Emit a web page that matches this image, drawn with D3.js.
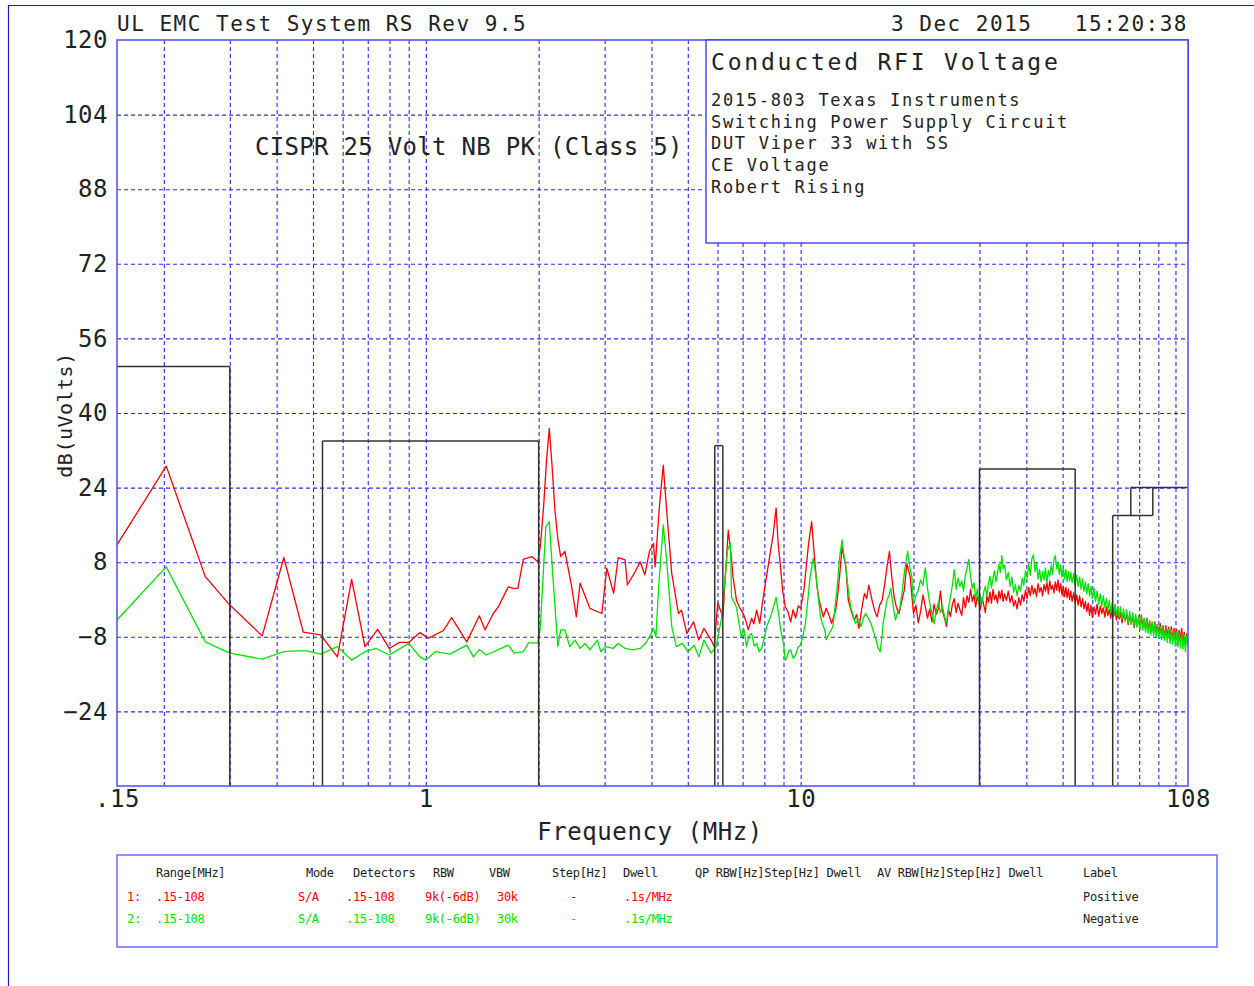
<!DOCTYPE html>
<html>
<head>
<meta charset="utf-8">
<script src="https://cdn.jsdelivr.net/npm/d3@7"></script>
<style>
body { margin: 0; background: #fff; }
svg text { font-family: "DejaVu Sans Mono", monospace; fill: #222; white-space: pre; }
</style>
</head>
<body>
<svg id="chart" width="1254" height="986"></svg>
<script>
// ---- data ----
var yTicks = [120, 104, 88, 72, 56, 40, 24, 8, -8, -24];
var yGrid = [104, 88, 72, 56, 40, 24, 8, -8, -24];
var xTicks = [0.15, 1, 10, 108];
var xTickLabels = [".15", "1", "10", "108"];
var xGrid = [0.2, 0.3, 0.4, 0.5, 0.6, 0.7, 0.8, 0.9, 1, 2, 3, 4, 5, 6, 7, 8, 9,
             10, 20, 30, 40, 50, 60, 70, 80, 90, 100];

// CISPR 25 class 5 limit bands: [fStart MHz, fStop MHz, dBuV]
var limitBands = [[0.15, 0.3, 50], [0.53, 2.0, 34], [5.9, 6.2, 33],
                  [30, 54, 28], [68, 87, 18], [76, 108, 24]];

// trace 1 : positive peak (red)
var positivePeak = [
  [0.15,11.7],[0.203,28.6],[0.258,4.9],[0.30,-1.2],[0.366,-7.8],[0.418,9.0],[0.471,-7.0],
  [0.524,-7.6],[0.581,-12.3],[0.634,4.3],[0.688,-10.1],[0.744,-6.4],[0.799,-10.5],[0.85,-9.2],
  [0.90,-9.2],[0.965,-7.1],[1.016,-8.3],[1.113,-6.7],[1.172,-3.9],[1.286,-9.1],[1.389,-3.5],
  [1.439,-6.5],[1.514,-3.0],[1.56,-1.6],[1.66,2.7],[1.71,2.4],[1.76,2.4],[1.82,8.6],[1.917,9.2],
  [1.99,8.1],[2.02,11.3],[2.06,19.5],[2.10,30.0],[2.135,36.7],[2.17,29.0],[2.21,19.2],[2.25,13.0],
  [2.29,9.2],[2.35,10.3],[2.45,2.7],[2.52,-3.7],[2.58,3.5],[2.74,-1.9],[2.95,-3.0],[3.04,6.7],
  [3.17,1.3],[3.26,9.0],[3.40,8.5],[3.45,3.1],[3.62,6.0],[3.73,8.1],[3.84,5.3],[3.95,10.3],
  [4.05,12.0],[4.09,7.0],[4.20,20.0],[4.30,28.8],[4.39,19.2],[4.53,5.6],[4.72,-3.0],[4.81,-2.3],
  [4.97,-7.3],[5.18,-4.8],[5.35,-8.7],[5.52,-6.2],[5.77,-8.7],[5.88,-10.1],[6.01,-0.7],[6.20,-3.7],
  [6.41,14.9],[6.54,8.8],[6.60,4.9],[6.74,-0.1],[6.88,-1.8],[7.03,-3.0],[7.14,-4.6],[7.25,-6.5],
  [7.40,-4.0],[7.50,-5.2],[7.63,-2.3],[7.78,-5.1],[7.90,-1.0],[8.0,2.0],[8.24,8.5],[8.45,14.0],
  [8.6,19.6],[8.7,12.5],[8.8,8.5],[8.95,2.0],[9.1,-1.6],[9.25,-2.6],[9.4,-4.8],[9.55,-2.2],
  [9.7,-4.0],[9.85,-1.4],[10.0,-1.9],[10.2,2.0],[10.5,12.0],[10.7,16.7],[10.9,8.5],[11.05,3.0],
  [11.2,-0.1],[11.35,-2.0],[11.5,-3.7],[11.7,-1.9],[11.9,-3.4],[12.1,-5.1],[12.4,-2.3],[12.55,0.8],
  [12.7,4.9],[12.9,11.3],[13.05,9.0],[13.2,7.0],[13.4,-0.1],[13.65,-2.6],[13.9,-4.4],[14.1,-3.2],
  [14.3,-6.2],[14.55,-2.0],[14.8,1.3],[15.0,0.2],[15.2,3.1],[15.5,-0.1],[15.75,-2.4],[16.0,-3.7],
  [16.25,-1.2],[16.5,-0.1],[16.75,3.2],[17.0,7.0],[17.25,10.3],[17.5,4.9],[17.75,0.6],[18.0,-1.6],
  [18.3,-3.0],[18.6,-0.4],[18.9,2.0],[19.2,7.7],[19.6,4.9],
  [20.0,-3.0],[20.3,-1.2],[20.6,-5.0],[20.9,-2.5],[21.2,1.0],[21.5,-1.5],[21.8,-4.0],[22.1,-2.0],
  [22.4,-4.8],[22.7,-1.0],[23.0,-3.2],[23.3,-2.0],[23.6,1.8],[23.9,-2.5],[24.2,-4.0],[24.5,-5.8],
  [24.8,-2.2],[25.1,-3.6],[25.4,-1.0],[25.7,0.2],[26.0,-2.8],[26.3,-0.8],[26.6,-2.2],[26.9,-3.4],
  [27.2,0.4],[27.5,-1.8],[27.8,0.8],[28.1,-0.6],[28.4,2.2],[28.7,-0.4],[29.0,1.0],[29.3,-1.6],
  [29.6,0.6],[29.9,-0.8],[30.2,-2.0],[30.5,0.4],[30.8,-1.2],[31.1,-2.8],[31.4,0.8],[31.7,-0.6],
  [32.0,1.6],[32.3,-0.8],[32.6,2.2],[32.9,0.0],[33.2,1.0],[33.5,-0.8],[33.8,1.8],[34.1,0.2],
  [34.4,2.0],[34.7,-0.4],[35.0,1.2],[35.4,-0.2],[35.8,1.8],[36.2,-0.6],[36.6,0.8],[37.0,-1.4],
  [37.4,-0.2],[37.8,-2.0],[38.2,0.4],[38.6,-1.2],[39.0,1.0],[39.4,-0.4],[39.8,2.0],[40.2,0.2],
  [40.6,2.6],[41.0,0.8],[41.4,3.0],[41.8,1.2],[42.2,2.4],[42.6,0.6],[43.0,3.4],[43.4,1.6],
  [43.8,2.6],[44.2,0.8],[44.6,3.2],[45.0,1.8],[45.4,3.6],[45.8,1.2],[46.2,4.0],[46.6,2.2],
  [47.0,3.0],[47.4,1.4],[47.8,3.8],[48.2,2.0],[48.6,4.2],[49.0,1.6],[49.4,3.4],[49.8,1.0],
  [50.2,2.8],[50.6,0.6],[51.0,2.6],[51.4,0.4],[51.8,2.2],[52.2,0.0],[52.6,1.8],[53.0,-0.4],
  [53.5,1.4],[54.0,-0.8],[54.5,1.0],[55.0,-1.2],[55.5,0.8],[56.0,-1.6],[56.5,0.2],[57.0,-2.0],
  [57.5,-0.4],[58.0,-2.6],[58.5,-0.8],[59.0,-3.4],[59.5,-1.2],[60.0,-3.8],[60.6,-1.6],[61.2,-3.2],
  [61.8,-1.0],[62.4,-3.6],[63.0,-1.4],[63.6,-3.0],[64.2,-1.8],[64.8,-3.8],[65.4,-1.6],[66.0,-3.4],
  [66.6,-2.2],[67.2,-4.0],[67.8,-1.8],[68.4,-3.6],[69.0,-2.4],[69.6,-4.4],[70.2,-2.2],[70.8,-4.2],
  [71.4,-2.8],[72.0,-5.0],[72.7,-3.0],[73.4,-4.6],[74.1,-3.2],[74.8,-5.4],[75.5,-3.4],[76.2,-5.2],
  [76.9,-3.6],[77.6,-6.0],[78.3,-3.8],[79.0,-5.6],[79.7,-4.0],[80.4,-6.2],[81.1,-3.4],[81.8,-5.8],
  [82.5,-4.2],[83.2,-6.4],[83.9,-4.0],[84.6,-6.6],[85.3,-4.6],[86.0,-6.8],[86.7,-5.0],[87.4,-7.2],
  [88.1,-4.8],[88.8,-6.8],[89.5,-5.4],[90.3,-7.4],[91.1,-5.2],[91.9,-7.6],[92.7,-5.6],[93.5,-8.0],
  [94.3,-5.6],[95.1,-7.6],[95.9,-6.0],[96.7,-8.2],[97.5,-5.8],[98.3,-8.6],[99.1,-6.2],[99.9,-8.4],
  [100.7,-6.4],[101.5,-9.0],[102.3,-6.6],[103.1,-8.6],[103.9,-6.2],[104.7,-9.4],[105.5,-7.0],
  [106.3,-9.8],[107.1,-7.4],[108.0,-9.0]
];

// trace 2 : negative peak (green)
var negativePeak = [
  [0.15,-4.4],[0.203,7.0],[0.258,-9.1],[0.30,-11.5],[0.366,-12.8],[0.418,-11.2],[0.45,-11.0],
  [0.482,-11.0],[0.524,-11.7],[0.581,-10.1],[0.634,-13.0],[0.688,-11.2],[0.738,-10.5],[0.799,-11.9],
  [0.90,-9.4],[0.965,-12.3],[1.0,-13.0],[1.06,-11.2],[1.16,-11.7],[1.286,-9.8],[1.34,-12.3],
  [1.389,-10.7],[1.45,-11.9],[1.66,-9.8],[1.72,-11.5],[1.82,-11.2],[1.88,-9.3],[1.99,-9.3],
  [2.02,-6.2],[2.09,15.6],[2.135,16.7],[2.18,5.6],[2.25,-10.1],[2.29,-6.5],[2.35,-6.5],[2.42,-10.1],
  [2.50,-8.7],[2.58,-10.5],[2.66,-9.4],[2.74,-10.8],[2.87,-8.7],[2.93,-11.2],[3.02,-10.1],[3.16,-10.5],
  [3.26,-9.4],[3.40,-10.5],[3.56,-10.8],[3.73,-10.5],[3.86,-9.4],[3.95,-8.0],[4.05,-6.2],[4.11,-8.0],
  [4.18,2.7],[4.30,16.0],[4.39,8.5],[4.53,-5.8],[4.66,-10.1],[4.84,-9.4],[5.0,-11.2],[5.2,-9.8],
  [5.35,-12.3],[5.52,-8.7],[5.77,-11.5],[5.95,-10.1],[6.16,-3.7],[6.38,10.6],[6.5,12.0],[6.54,0.5],
  [6.74,-1.6],[6.85,-5.2],[6.95,-8.0],[7.06,-6.4],[7.17,-10.1],[7.28,-7.8],[7.40,-7.3],[7.52,-10.0],
  [7.63,-9.4],[7.75,-11.2],[7.87,-10.5],[8.0,-8.2],[8.12,-5.8],[8.37,-3.0],[8.6,0.5],[8.73,-3.0],
  [8.86,-6.8],[9.0,-9.4],[9.1,-13.0],[9.2,-12.3],[9.3,-11.0],[9.4,-10.8],[9.55,-12.6],[9.7,-11.9],
  [9.85,-10.2],[10.0,-9.8],[10.15,-7.6],[10.3,-5.1],[10.6,4.9],[10.8,8.8],[11.0,4.9],[11.15,0.2],
  [11.3,-3.7],[11.45,-5.4],[11.6,-6.5],[11.7,-8.6],[11.8,-8.0],[12.0,-6.8],[12.2,-5.8],[12.35,-1.6],
  [12.5,2.0],[12.7,9.0],[12.9,12.8],[13.05,9.4],[13.2,7.0],[13.4,2.0],[13.6,-1.6],[13.8,-3.4],
  [14.0,-5.1],[14.25,-4.2],[14.5,-5.8],[14.7,-4.0],[14.9,-3.0],[15.15,-4.0],[15.4,-5.1],[15.65,-7.0],
  [15.9,-8.7],[16.1,-10.4],[16.3,-11.2],[16.45,-8.6],[16.6,-5.1],[16.8,-2.6],[17.0,-0.1],[17.2,0.8],
  [17.4,2.4],[17.65,-1.4],[17.9,-4.4],[18.15,-2.8],[18.4,-1.9],[18.65,1.6],[18.9,5.6],[19.1,8.2],
  [19.3,10.3],[19.55,7.0],[19.8,4.9],
  [20.0,-1.0],[20.3,0.8],[20.6,2.0],[20.9,4.2],[21.2,3.0],[21.5,6.8],[21.8,2.4],[22.1,-0.8],
  [22.4,-3.0],[22.7,-5.2],[23.0,-2.4],[23.3,-0.6],[23.6,-2.8],[23.9,-1.4],[24.2,-3.6],[24.5,-5.0],
  [24.8,-1.8],[25.1,0.6],[25.4,3.0],[25.7,6.4],[26.0,2.2],[26.3,4.6],[26.6,2.8],[26.9,4.0],
  [27.2,1.8],[27.5,5.2],[27.8,6.8],[28.1,8.6],[28.4,5.0],[28.7,2.4],[29.0,3.6],[29.3,0.2],
  [29.6,2.2],[29.9,-1.0],[30.2,0.6],[30.5,-0.8],[30.8,1.6],[31.1,2.8],[31.4,0.8],[31.7,3.4],
  [32.0,5.0],[32.3,2.6],[32.6,4.6],[32.9,6.2],[33.2,3.8],[33.5,5.6],[33.8,7.6],[34.1,5.8],
  [34.4,9.4],[34.7,6.6],[35.0,7.4],[35.4,4.2],[35.8,5.8],[36.2,2.8],[36.6,4.8],[37.0,1.6],
  [37.4,3.2],[37.8,0.8],[38.2,3.0],[38.6,1.8],[39.0,4.6],[39.4,3.0],[39.8,6.2],[40.2,4.6],
  [40.6,7.6],[41.0,5.2],[41.4,8.8],[41.8,9.6],[42.2,6.0],[42.6,7.8],[43.0,4.4],[43.4,6.4],
  [43.8,3.8],[44.2,6.0],[44.6,4.2],[45.0,6.8],[45.4,3.6],[45.8,6.2],[46.2,5.0],[46.6,7.4],
  [47.0,5.4],[47.4,8.6],[47.8,9.4],[48.2,6.6],[48.6,8.0],[49.0,5.4],[49.4,7.4],[49.8,4.8],
  [50.2,6.8],[50.6,4.4],[51.0,6.4],[51.4,3.8],[51.8,6.0],[52.2,4.0],[52.6,5.8],[53.0,3.6],
  [53.5,5.6],[54.0,3.0],[54.5,5.2],[55.0,2.8],[55.5,4.8],[56.0,2.2],[56.5,4.4],[57.0,1.8],
  [57.5,3.8],[58.0,1.2],[58.5,3.4],[59.0,0.8],[59.5,2.8],[60.0,0.2],[60.6,2.4],[61.2,-0.4],
  [61.8,1.8],[62.4,-1.0],[63.0,1.2],[63.6,-1.4],[64.2,0.8],[64.8,-1.8],[65.4,0.2],[66.0,-2.4],
  [66.6,-0.2],[67.2,-2.8],[67.8,-0.6],[68.4,-3.2],[69.0,-1.0],[69.6,-3.4],[70.2,-1.4],[70.8,-3.8],
  [71.4,-1.6],[72.0,-4.2],[72.7,-2.0],[73.4,-4.6],[74.1,-2.2],[74.8,-5.0],[75.5,-2.6],[76.2,-5.4],
  [76.9,-2.8],[77.6,-5.6],[78.3,-3.2],[79.0,-6.0],[79.7,-3.4],[80.4,-6.4],[81.1,-3.8],[81.8,-6.6],
  [82.5,-4.0],[83.2,-7.0],[83.9,-4.4],[84.6,-7.2],[85.3,-4.6],[86.0,-7.6],[86.7,-4.8],[87.4,-7.8],
  [88.1,-5.2],[88.8,-8.0],[89.5,-5.4],[90.3,-8.4],[91.1,-5.8],[91.9,-8.6],[92.7,-6.0],[93.5,-8.8],
  [94.3,-6.2],[95.1,-9.2],[95.9,-6.4],[96.7,-9.4],[97.5,-6.6],[98.3,-9.6],[99.1,-6.8],[99.9,-10.0],
  [100.7,-7.0],[101.5,-10.2],[102.3,-7.2],[103.1,-10.4],[103.9,-7.4],[104.7,-10.6],[105.5,-7.6],
  [106.3,-11.2],[107.1,-7.8],[108.0,-10.0]
];

var headerLeft = "UL EMC Test System RS Rev 9.5";
var headerRight = "3 Dec 2015   15:20:38";
var limitName = "CISPR 25 Volt NB PK (Class 5)";
var infoTitle = "Conducted RFI Voltage";
var infoLines = ["2015-803 Texas Instruments", "Switching Power Supply Circuit",
                 "DUT Viper 33 with SS", "CE Voltage", "Robert Rising"];

var legendHeads = ["Range[MHz]", "Mode", "Detectors", "RBW", "VBW", "Step[Hz]", "Dwell",
                   "QP RBW[Hz]Step[Hz] Dwell", "AV RBW[Hz]Step[Hz] Dwell", "Label"];
var legendRows = [
  ["1:", ".15-108", "S/A", ".15-108", "9k(-6dB)", "30k", "-", ".1s/MHz", "Positive"],
  ["2:", ".15-108", "S/A", ".15-108", "9k(-6dB)", "30k", "-", ".1s/MHz", "Negative"]
];
var traceColors = ["#ff0000", "#00e400"];

// ---- layout ----
var W = 1254, H = 986;
var L = 117, R = 1188, T = 40, B = 786;
var headX = [156, 306, 353, 433, 489, 552, 623, 695, 877, 1083];
var rowX = [127, 156, 298, 346, 425, 497, 570, 624, 1083];

var x = d3.scaleLog().domain([0.15, 108]).range([L, R]);
var y = d3.scaleLinear().domain([-40, 120]).range([B, T]);

var svg = d3.select("#chart");
svg.append("rect").attr("width", W).attr("height", H).attr("fill", "#fff");

// outer frame
svg.append("path").attr("d", "M8.5," + H + "V5.5H" + W)
  .attr("fill", "none").attr("stroke", "#1c1cb8").attr("stroke-width", 1.2);

// grid
var gx = svg.append("g").attr("transform", "translate(0," + B + ")")
  .call(d3.axisBottom(x).tickValues(xGrid).tickSize(-(B - T)).tickFormat(""));
gx.select(".domain").remove();
gx.selectAll("line").attr("stroke", "#2a2aff").attr("stroke-width", 1.1)
  .attr("stroke-dasharray", "4,3");

var gy = svg.append("g").attr("transform", "translate(" + L + ",0)")
  .call(d3.axisLeft(y).tickValues(yGrid).tickSize(-(R - L)).tickFormat(""));
gy.select(".domain").remove();
gy.selectAll("line").attr("stroke", "#2a2aff").attr("stroke-width", 1.1)
  .attr("stroke-dasharray", "4,3");

// traces
var line = d3.line().x(function(d) { return x(d[0]); }).y(function(d) { return y(d[1]); });
[positivePeak, negativePeak].forEach(function(tr, i) {
  svg.append("path").datum(tr).attr("d", line)
    .attr("fill", "none").attr("stroke", traceColors[i]).attr("stroke-width", 1.3)
    .attr("stroke-linejoin", "round");
});

// limit lines
function floorAt(f, band) {
  var lv = -40;
  limitBands.forEach(function(o) {
    if (o !== band && f >= o[0] && f <= o[1]) lv = Math.max(lv, o[2]);
  });
  return lv;
}
var lim = svg.append("g").attr("fill", "none").attr("stroke", "#333").attr("stroke-width", 1.5);
limitBands.forEach(function(b) {
  lim.append("line").attr("x1", x(b[0])).attr("x2", x(b[1])).attr("y1", y(b[2])).attr("y2", y(b[2]));
  [b[0], b[1]].forEach(function(f) {
    if (f <= 0.15 || f >= 108) return;
    lim.append("line").attr("x1", x(f)).attr("x2", x(f))
      .attr("y1", y(b[2])).attr("y2", y(floorAt(f, b)));
  });
});

// plot border
svg.append("rect").attr("x", L).attr("y", T).attr("width", R - L).attr("height", B - T)
  .attr("fill", "none").attr("stroke", "#5858ff").attr("stroke-width", 1.6);

// axes labels
var ay = svg.append("g").attr("transform", "translate(" + L + ",0)")
  .call(d3.axisLeft(y).tickValues(yTicks).tickSize(0).tickPadding(9));
ay.select(".domain").remove();
ay.selectAll("text").style("font-size", "24px").style("font-family", "DejaVu Sans Mono")
  .style("letter-spacing", "0.5px");

var ax = svg.append("g").attr("transform", "translate(0," + B + ")")
  .call(d3.axisBottom(x).tickValues(xTicks).tickSize(0).tickPadding(4)
    .tickFormat(function(d, i) { return xTickLabels[i]; }));
ax.select(".domain").remove();
ax.selectAll("text").style("font-size", "24px").style("font-family", "DejaVu Sans Mono")
  .style("letter-spacing", "0.5px");

svg.append("text").attr("x", 650).attr("y", 840).attr("text-anchor", "middle")
  .style("font-size", "24px").style("letter-spacing", "0.6px").text("Frequency (MHz)");
svg.append("text").attr("transform", "translate(72,415) rotate(-90)").attr("text-anchor", "middle")
  .style("font-size", "20px").style("letter-spacing", "0.5px").text("dB(uVolts)");

// header
svg.append("text").attr("x", 117).attr("y", 31)
  .style("font-size", "21px").style("letter-spacing", "1.5px").text(headerLeft);
svg.append("text").attr("x", 1188).attr("y", 31).attr("text-anchor", "end")
  .style("font-size", "21px").style("letter-spacing", "1.5px").text(headerRight);

svg.append("text").attr("x", 255).attr("y", 155)
  .style("font-size", "24px").style("letter-spacing", "0.3px").text(limitName);

// info box
svg.append("rect").attr("x", 706).attr("y", T).attr("width", R - 706).attr("height", 203)
  .attr("fill", "#fff").attr("stroke", "#3434e6").attr("stroke-width", 1.3);
svg.append("text").attr("x", 711).attr("y", 70)
  .style("font-size", "23px").style("letter-spacing", "2.8px").text(infoTitle);
svg.selectAll("text.info").data(infoLines).enter().append("text").attr("class", "info")
  .attr("x", 711).attr("y", function(d, i) { return 106 + i * 21.7; })
  .style("font-size", "17px").style("letter-spacing", "1.7px").text(function(d) { return d; });

// legend table
svg.append("rect").attr("x", 117).attr("y", 855).attr("width", 1100).attr("height", 92)
  .attr("fill", "none").attr("stroke", "#6a6aff").attr("stroke-width", 1.5);
svg.selectAll("text.lh").data(legendHeads).enter().append("text").attr("class", "lh")
  .attr("x", function(d, i) { return headX[i]; }).attr("y", 877)
  .style("font-size", "12px").style("letter-spacing", "-0.3px").text(function(d) { return d; });
legendRows.forEach(function(row, r) {
  svg.selectAll("text.lr" + r).data(row).enter().append("text").attr("class", "lr" + r)
    .attr("x", function(d, i) { return rowX[i]; }).attr("y", 901 + r * 22)
    .style("font-size", "12px").style("letter-spacing", "-0.3px")
    .style("fill", function(d, i) { return i === row.length - 1 ? "#222" : traceColors[r]; })
    .text(function(d) { return d; });
});
</script>
</body>
</html>
